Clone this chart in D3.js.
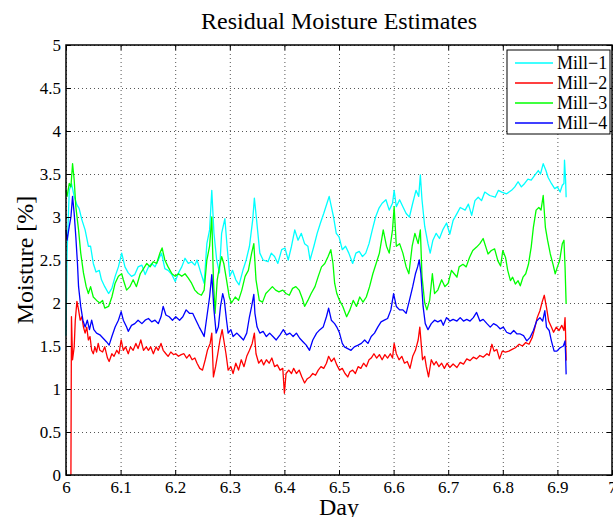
<!DOCTYPE html>
<html>
<head>
<meta charset="utf-8">
<script src="https://cdn.jsdelivr.net/npm/d3@7"></script>
<style>
    body { margin: 0; background: #fff; }
    svg { display: block; }
    text { font-family: "Liberation Serif", "Times New Roman", serif; fill: #000; }
</style>
</head>
<body>
<div id="chart"></div>
<script>
// DATA //
const chartTitle = "Residual Moisture Estimates"
const xLabel = "Day"
const yLabel = "Moisture [%]"
const seriesNames = ["Mill\u22121", "Mill\u22122", "Mill\u22123", "Mill\u22124"]
const seriesColors = ["#00ffff", "#ff0000", "#00ff00", "#0000ff"]
const xTicks = [6, 6.1, 6.2, 6.3, 6.4, 6.5, 6.6, 6.7, 6.8, 6.9, 7]
const xTickLabels = ["6", "6.1", "6.2", "6.3", "6.4", "6.5", "6.6", "6.7", "6.8", "6.9", "7"]
const yTicks = [0, 0.5, 1, 1.5, 2, 2.5, 3, 3.5, 4, 4.5, 5]
const yTickLabels = ["0", "0.5", "1", "1.5", "2", "2.5", "3", "3.5", "4", "4.5", "5"]

// [day, moisture %]
const mill1 = [
    [6.000,1.62],[6.002,2.58],[6.006,3.31],[6.010,3.39],[6.015,3.24],[6.020,3.14],[6.024,3.10],
    [6.029,2.97],[6.035,2.85],[6.041,2.66],[6.045,2.66],[6.050,2.46],[6.055,2.36],[6.061,2.38],
    [6.065,2.27],[6.071,2.19],[6.078,2.11],[6.084,2.17],[6.090,2.31],[6.096,2.42],[6.102,2.58],
    [6.108,2.42],[6.114,2.35],[6.120,2.31],[6.126,2.33],[6.132,2.42],[6.139,2.44],[6.145,2.33],
    [6.151,2.42],[6.157,2.46],[6.163,2.42],[6.169,2.50],[6.175,2.58],[6.181,2.40],[6.187,2.38],
    [6.194,2.33],[6.200,2.25],[6.206,2.35],[6.212,2.42],[6.218,2.52],[6.224,2.46],[6.230,2.48],
    [6.236,2.44],[6.240,2.50],[6.247,2.35],[6.253,2.23],[6.258,2.69],[6.263,2.85],[6.267,3.31],
    [6.271,2.81],[6.276,2.50],[6.281,2.35],[6.285,2.81],[6.291,2.98],[6.295,2.66],[6.300,2.31],
    [6.305,2.38],[6.311,2.27],[6.317,2.21],[6.324,2.38],[6.330,2.50],[6.336,2.66],[6.342,2.97],
    [6.345,3.22],[6.349,2.97],[6.355,2.58],[6.361,2.50],[6.370,2.48],[6.376,2.58],[6.382,2.54],
    [6.388,2.46],[6.395,2.62],[6.401,2.64],[6.407,2.50],[6.413,2.66],[6.419,2.85],[6.425,2.73],
    [6.431,2.81],[6.437,2.69],[6.443,2.66],[6.447,2.50],[6.454,2.66],[6.460,2.81],[6.466,2.93],
    [6.472,3.04],[6.478,3.16],[6.482,3.24],[6.486,3.12],[6.490,3.00],[6.495,2.81],[6.500,2.77],
    [6.506,2.62],[6.512,2.66],[6.518,2.58],[6.525,2.46],[6.531,2.58],[6.537,2.60],[6.543,2.54],
    [6.549,2.58],[6.555,2.69],[6.561,2.85],[6.567,3.00],[6.573,3.10],[6.579,3.16],[6.586,3.20],
    [6.592,3.08],[6.598,3.16],[6.601,3.31],[6.605,3.12],[6.611,3.20],[6.617,3.12],[6.623,3.04],
    [6.629,3.00],[6.635,3.16],[6.641,3.31],[6.646,3.24],[6.649,3.49],[6.652,3.20],[6.657,2.89],
    [6.663,2.69],[6.667,2.58],[6.672,2.73],[6.678,2.81],[6.684,2.75],[6.690,2.85],[6.697,2.93],
    [6.703,2.80],[6.709,2.96],[6.716,3.04],[6.722,3.11],[6.731,3.08],[6.737,3.15],[6.743,3.02],
    [6.749,3.19],[6.755,3.23],[6.761,3.19],[6.767,3.29],[6.776,3.25],[6.786,3.23],[6.792,3.31],
    [6.798,3.29],[6.807,3.27],[6.816,3.31],[6.822,3.35],[6.828,3.41],[6.834,3.35],[6.840,3.39],
    [6.846,3.44],[6.852,3.43],[6.858,3.48],[6.865,3.54],[6.869,3.50],[6.874,3.62],[6.879,3.54],
    [6.883,3.46],[6.889,3.39],[6.895,3.33],[6.900,3.35],[6.905,3.29],[6.909,3.37],[6.912,3.39],
    [6.913,3.66],[6.915,3.43],[6.916,3.23]
]

const mill2 = [
    [6.009,0.00],[6.010,1.84],[6.012,1.34],[6.015,1.49],[6.017,1.80],[6.020,2.02],[6.023,1.92],
    [6.026,1.80],[6.029,1.84],[6.032,1.72],[6.035,1.65],[6.038,1.72],[6.041,1.57],[6.044,1.61],
    [6.047,1.45],[6.050,1.41],[6.053,1.49],[6.056,1.43],[6.059,1.53],[6.062,1.45],[6.067,1.43],
    [6.071,1.49],[6.076,1.36],[6.079,1.32],[6.084,1.41],[6.088,1.38],[6.093,1.45],[6.097,1.41],
    [6.101,1.57],[6.105,1.45],[6.109,1.49],[6.114,1.41],[6.118,1.49],[6.123,1.45],[6.128,1.53],
    [6.132,1.47],[6.137,1.57],[6.142,1.45],[6.147,1.49],[6.151,1.45],[6.155,1.49],[6.160,1.41],
    [6.165,1.49],[6.169,1.45],[6.174,1.53],[6.178,1.45],[6.183,1.41],[6.187,1.38],[6.192,1.43],
    [6.197,1.40],[6.201,1.41],[6.206,1.38],[6.211,1.40],[6.216,1.41],[6.221,1.36],[6.226,1.40],
    [6.231,1.34],[6.236,1.36],[6.240,1.30],[6.245,1.24],[6.250,1.22],[6.255,1.34],[6.259,1.45],
    [6.264,1.53],[6.267,1.65],[6.270,1.14],[6.274,1.26],[6.278,1.41],[6.282,1.57],[6.286,1.69],
    [6.289,1.57],[6.293,1.41],[6.297,1.22],[6.302,1.26],[6.306,1.18],[6.311,1.30],[6.316,1.22],
    [6.321,1.34],[6.326,1.26],[6.331,1.38],[6.336,1.45],[6.341,1.53],[6.345,1.65],[6.348,1.41],
    [6.353,1.30],[6.358,1.34],[6.362,1.28],[6.367,1.34],[6.372,1.30],[6.377,1.36],[6.382,1.26],
    [6.387,1.28],[6.392,1.22],[6.397,1.24],[6.400,0.95],[6.403,1.18],[6.408,1.22],[6.413,1.18],
    [6.417,1.24],[6.422,1.18],[6.427,1.22],[6.432,1.14],[6.437,1.07],[6.442,1.12],[6.447,1.14],
    [6.452,1.18],[6.457,1.16],[6.462,1.22],[6.467,1.26],[6.472,1.24],[6.477,1.30],[6.481,1.38],
    [6.486,1.32],[6.491,1.36],[6.496,1.28],[6.501,1.22],[6.506,1.24],[6.511,1.18],[6.516,1.14],
    [6.520,1.20],[6.525,1.22],[6.530,1.18],[6.535,1.26],[6.540,1.24],[6.545,1.30],[6.550,1.26],
    [6.555,1.34],[6.559,1.36],[6.564,1.41],[6.569,1.36],[6.574,1.40],[6.579,1.34],[6.584,1.40],
    [6.589,1.36],[6.594,1.41],[6.598,1.36],[6.601,1.53],[6.605,1.41],[6.610,1.34],[6.615,1.38],
    [6.620,1.30],[6.625,1.32],[6.630,1.24],[6.635,1.38],[6.640,1.45],[6.645,1.57],[6.648,1.72],
    [6.651,1.49],[6.653,1.34],[6.657,1.38],[6.660,1.26],[6.664,1.14],[6.669,1.34],[6.674,1.28],
    [6.678,1.32],[6.683,1.26],[6.688,1.30],[6.693,1.24],[6.698,1.30],[6.703,1.25],[6.709,1.29],
    [6.716,1.25],[6.722,1.31],[6.728,1.29],[6.734,1.35],[6.740,1.33],[6.746,1.37],[6.752,1.35],
    [6.758,1.39],[6.764,1.37],[6.771,1.41],[6.775,1.39],[6.780,1.52],[6.784,1.44],[6.789,1.46],
    [6.794,1.35],[6.799,1.44],[6.805,1.43],[6.811,1.44],[6.817,1.46],[6.823,1.48],[6.830,1.52],
    [6.836,1.50],[6.842,1.54],[6.848,1.52],[6.854,1.60],[6.859,1.72],[6.863,1.83],[6.868,1.91],
    [6.872,2.01],[6.876,2.09],[6.880,1.95],[6.884,1.79],[6.889,1.72],[6.893,1.66],[6.898,1.72],
    [6.903,1.68],[6.908,1.74],[6.912,1.68],[6.914,1.83],[6.915,1.64],[6.916,1.33]
]

const mill3 = [
    [6.000,3.31],[6.002,3.24],[6.006,3.39],[6.009,3.35],[6.012,3.62],[6.015,3.43],[6.018,3.12],
    [6.023,2.85],[6.027,2.58],[6.032,2.35],[6.037,2.19],[6.041,2.11],[6.045,2.19],[6.050,2.07],
    [6.056,2.03],[6.062,2.00],[6.067,2.03],[6.071,1.94],[6.078,1.96],[6.084,2.07],[6.090,2.23],
    [6.096,2.31],[6.102,2.34],[6.105,2.27],[6.111,2.15],[6.117,2.19],[6.123,2.27],[6.129,2.19],
    [6.136,2.34],[6.142,2.40],[6.148,2.46],[6.154,2.42],[6.160,2.48],[6.166,2.46],[6.172,2.58],
    [6.176,2.64],[6.181,2.50],[6.187,2.42],[6.194,2.34],[6.200,2.31],[6.206,2.34],[6.212,2.31],
    [6.218,2.34],[6.224,2.29],[6.230,2.23],[6.236,2.15],[6.242,2.11],[6.248,2.09],[6.253,2.15],
    [6.258,2.50],[6.263,2.66],[6.267,3.00],[6.270,2.27],[6.273,1.88],[6.277,2.27],[6.281,2.42],
    [6.285,2.54],[6.289,2.46],[6.294,2.27],[6.299,2.07],[6.303,2.00],[6.310,2.07],[6.316,2.03],
    [6.322,2.15],[6.328,2.31],[6.334,2.38],[6.340,2.58],[6.344,2.69],[6.348,2.27],[6.354,2.03],
    [6.360,2.01],[6.366,2.11],[6.372,2.15],[6.378,2.19],[6.384,2.15],[6.390,2.13],[6.397,2.15],
    [6.403,2.11],[6.409,2.09],[6.415,2.17],[6.421,2.19],[6.427,2.15],[6.433,2.05],[6.437,1.96],
    [6.443,2.03],[6.449,2.11],[6.456,2.19],[6.462,2.31],[6.468,2.42],[6.474,2.46],[6.480,2.54],
    [6.485,2.62],[6.489,2.46],[6.492,2.23],[6.496,2.11],[6.501,2.03],[6.507,1.96],[6.514,1.84],
    [6.520,1.92],[6.526,2.03],[6.532,1.96],[6.538,2.07],[6.544,2.01],[6.550,2.07],[6.556,2.19],
    [6.562,2.34],[6.568,2.46],[6.574,2.58],[6.581,2.85],[6.587,2.66],[6.592,2.58],[6.598,2.85],
    [6.601,3.12],[6.605,2.66],[6.611,2.69],[6.617,2.58],[6.623,2.42],[6.628,2.34],[6.634,2.66],
    [6.639,2.81],[6.645,2.69],[6.649,2.85],[6.652,2.31],[6.657,2.00],[6.661,1.92],[6.666,2.03],
    [6.671,2.34],[6.675,2.11],[6.681,2.15],[6.688,2.27],[6.694,2.19],[6.700,2.23],[6.706,2.38],
    [6.711,2.34],[6.716,2.30],[6.720,2.42],[6.727,2.45],[6.733,2.42],[6.739,2.53],[6.745,2.61],
    [6.752,2.65],[6.758,2.69],[6.764,2.75],[6.769,2.65],[6.773,2.57],[6.779,2.61],[6.785,2.63],
    [6.791,2.49],[6.796,2.43],[6.800,2.61],[6.805,2.53],[6.809,2.38],[6.814,2.26],[6.818,2.30],
    [6.823,2.22],[6.828,2.26],[6.832,2.20],[6.837,2.30],[6.842,2.34],[6.847,2.45],[6.852,2.65],
    [6.856,2.88],[6.861,3.08],[6.866,3.11],[6.870,3.08],[6.874,3.25],[6.878,2.88],[6.882,2.73],
    [6.887,2.57],[6.892,2.45],[6.896,2.34],[6.900,2.42],[6.904,2.49],[6.909,2.69],[6.912,2.73],
    [6.914,2.42],[6.916,1.99]
]

const mill4 = [
    [6.000,2.85],[6.002,2.73],[6.006,2.89],[6.009,3.00],[6.012,3.24],[6.015,3.04],[6.018,2.77],
    [6.021,2.46],[6.023,2.19],[6.027,1.96],[6.031,1.80],[6.035,1.72],[6.039,1.80],[6.043,1.69],
    [6.047,1.80],[6.051,1.69],[6.056,1.65],[6.062,1.63],[6.068,1.59],[6.074,1.55],[6.079,1.51],
    [6.084,1.61],[6.090,1.72],[6.096,1.80],[6.101,1.90],[6.105,1.80],[6.111,1.72],[6.114,1.67],
    [6.120,1.74],[6.126,1.76],[6.132,1.80],[6.139,1.76],[6.145,1.80],[6.151,1.82],[6.157,1.78],
    [6.163,1.80],[6.169,1.76],[6.174,1.84],[6.178,1.96],[6.183,1.86],[6.189,1.84],[6.195,1.80],
    [6.201,1.84],[6.208,1.80],[6.214,1.84],[6.220,1.92],[6.226,1.88],[6.232,1.88],[6.238,1.80],
    [6.244,1.72],[6.250,1.65],[6.253,1.61],[6.258,1.84],[6.263,2.07],[6.267,2.33],[6.271,1.92],
    [6.275,1.65],[6.279,1.72],[6.283,1.96],[6.287,2.11],[6.290,2.03],[6.294,1.80],[6.297,1.65],
    [6.302,1.69],[6.306,1.61],[6.313,1.65],[6.319,1.61],[6.325,1.57],[6.331,1.65],[6.336,1.84],
    [6.340,1.96],[6.344,2.10],[6.346,1.88],[6.350,1.72],[6.355,1.65],[6.361,1.67],[6.367,1.61],
    [6.373,1.65],[6.379,1.61],[6.385,1.57],[6.392,1.63],[6.398,1.69],[6.404,1.63],[6.410,1.65],
    [6.416,1.61],[6.422,1.65],[6.428,1.59],[6.434,1.55],[6.440,1.51],[6.446,1.45],[6.452,1.57],
    [6.459,1.65],[6.465,1.69],[6.471,1.72],[6.477,1.84],[6.481,1.94],[6.486,1.80],[6.492,1.76],
    [6.496,1.72],[6.501,1.65],[6.506,1.53],[6.510,1.49],[6.516,1.47],[6.522,1.45],[6.528,1.49],
    [6.535,1.51],[6.541,1.53],[6.547,1.57],[6.553,1.53],[6.559,1.61],[6.565,1.65],[6.571,1.72],
    [6.577,1.78],[6.583,1.80],[6.589,1.82],[6.595,1.92],[6.600,2.11],[6.605,1.96],[6.611,1.92],
    [6.617,1.92],[6.623,1.88],[6.629,2.03],[6.635,2.19],[6.640,2.34],[6.644,2.42],[6.647,2.50],
    [6.650,2.34],[6.654,1.96],[6.658,1.76],[6.663,1.69],[6.669,1.76],[6.675,1.80],[6.681,1.78],
    [6.687,1.80],[6.691,1.74],[6.697,1.83],[6.703,1.79],[6.709,1.81],[6.716,1.79],[6.722,1.83],
    [6.728,1.79],[6.734,1.81],[6.740,1.79],[6.746,1.83],[6.752,1.89],[6.758,1.79],[6.764,1.81],
    [6.771,1.76],[6.777,1.72],[6.783,1.76],[6.789,1.74],[6.795,1.70],[6.801,1.72],[6.807,1.66],
    [6.814,1.64],[6.820,1.68],[6.826,1.64],[6.832,1.64],[6.838,1.62],[6.844,1.56],[6.850,1.60],
    [6.856,1.68],[6.862,1.79],[6.868,1.83],[6.873,1.79],[6.877,1.91],[6.880,1.72],[6.885,1.68],
    [6.889,1.56],[6.894,1.44],[6.899,1.44],[6.905,1.48],[6.911,1.50],[6.914,1.56],[6.915,1.41],
    [6.916,1.17]
]

const allSeries = [mill1, mill2, mill3, mill4]

// DIMENSIONS //
const width = 613
const height = 517
const serifFont = "'Liberation Serif', 'Times New Roman', serif"

let dimensions = {
    width: width,
    height: height,
    margin: {
        top: 45,
        right: 1,
        bottom: 42,
        left: 66,
    },
}
dimensions.boundedWidth = dimensions.width - dimensions.margin.left - dimensions.margin.right
dimensions.boundedHeight = dimensions.height - dimensions.margin.top - dimensions.margin.bottom

const xScale = d3.scaleLinear()
    .domain([6, 7])
    .range([0, dimensions.boundedWidth])

const yScale = d3.scaleLinear()
    .domain([0, 5])
    .range([dimensions.boundedHeight, 0])

const xAccessor = d => d[0]
const yAccessor = d => d[1]

// DRAW //
const wrapper = d3.select("#chart")
    .append("svg")
    .attr("width", dimensions.width)
    .attr("height", dimensions.height)

const bounds = wrapper.append("g")
    .attr("transform", `translate(${dimensions.margin.left},${dimensions.margin.top})`)

// grid (dotted, like matlab "grid on")
const xGrid = d3.axisBottom(xScale)
    .tickValues(xTicks)
    .tickSize(-dimensions.boundedHeight)
    .tickFormat("")
const yGrid = d3.axisLeft(yScale)
    .tickValues(yTicks)
    .tickSize(-dimensions.boundedWidth)
    .tickFormat("")

bounds.append("g")
    .attr("class", "grid")
    .attr("transform", `translate(0,${dimensions.boundedHeight})`)
    .call(xGrid)
bounds.append("g")
    .attr("class", "grid")
    .call(yGrid)
bounds.selectAll(".grid .domain").remove()
bounds.selectAll(".grid line")
    .attr("stroke", "#555")
    .attr("stroke-width", 1)
    .attr("stroke-dasharray", "1,3")

// lines
const lineGenerator = d3.line()
    .x(d => xScale(xAccessor(d)))
    .y(d => yScale(yAccessor(d)))

bounds.selectAll(".series")
    .data(allSeries)
    .join("path")
    .attr("class", "series")
    .attr("d", d => lineGenerator(d))
    .attr("fill", "none")
    .attr("stroke", (d, i) => seriesColors[i])
    .attr("stroke-width", 1.3)
    .attr("stroke-linejoin", "round")

// axes, ticks pointing inward
const xAxisGenerator = d3.axisBottom(xScale)
    .tickValues(xTicks)
    .tickFormat((d, i) => xTickLabels[i])
    .tickSizeInner(-5)
    .tickSizeOuter(0)
    .tickPadding(6)
const yAxisGenerator = d3.axisLeft(yScale)
    .tickValues(yTicks)
    .tickFormat((d, i) => yTickLabels[i])
    .tickSizeInner(-5)
    .tickSizeOuter(0)
    .tickPadding(5)
const xTopGenerator = d3.axisTop(xScale)
    .tickValues(xTicks)
    .tickFormat("")
    .tickSizeInner(-5)
    .tickSizeOuter(0)
const yRightGenerator = d3.axisRight(yScale)
    .tickValues(yTicks)
    .tickFormat("")
    .tickSizeInner(-5)
    .tickSizeOuter(0)

const axisGroups = [
    bounds.append("g")
        .attr("transform", `translate(0,${dimensions.boundedHeight})`)
        .call(xAxisGenerator),
    bounds.append("g")
        .call(yAxisGenerator),
    bounds.append("g")
        .call(xTopGenerator),
    bounds.append("g")
        .attr("transform", `translate(${dimensions.boundedWidth},0)`)
        .call(yRightGenerator),
]

axisGroups.forEach(g => {
    g.attr("font-family", serifFont).attr("font-size", 17)
    g.select(".domain").remove()
    g.selectAll(".tick line").attr("stroke", "#000")
    g.selectAll(".tick text")
        .style("font-family", serifFont)
        .style("font-size", "17px")
        .attr("fill", "#000")
})

// box
bounds.append("rect")
    .attr("x", 0)
    .attr("y", 0)
    .attr("width", dimensions.boundedWidth)
    .attr("height", dimensions.boundedHeight)
    .attr("fill", "none")
    .attr("stroke", "#000")
    .attr("stroke-width", 1.5)

// title and labels
wrapper.append("text")
    .attr("x", dimensions.margin.left + dimensions.boundedWidth / 2)
    .attr("y", 29)
    .attr("text-anchor", "middle")
    .style("font-size", "24px")
    .text(chartTitle)

wrapper.append("text")
    .attr("x", dimensions.margin.left + dimensions.boundedWidth / 2)
    .attr("y", 515)
    .attr("text-anchor", "middle")
    .style("font-size", "24px")
    .text(xLabel)

wrapper.append("text")
    .attr("transform", "rotate(-90)")
    .attr("x", -(dimensions.margin.top + dimensions.boundedHeight / 2))
    .attr("y", 33)
    .attr("text-anchor", "middle")
    .style("font-size", "24px")
    .text(yLabel)

// legend
const legend = bounds.append("g")
    .attr("transform", `translate(${dimensions.boundedWidth - 105},5)`)

legend.append("rect")
    .attr("width", 103)
    .attr("height", 84)
    .attr("fill", "#fff")
    .attr("stroke", "#000")
    .attr("stroke-width", 1)

const legendItems = legend.selectAll(".legend-item")
    .data(seriesNames)
    .join("g")
    .attr("class", "legend-item")
    .attr("transform", (d, i) => `translate(0,${13 + i * 20})`)

legendItems.append("line")
    .attr("x1", 8)
    .attr("x2", 46)
    .attr("stroke", (d, i) => seriesColors[i])
    .attr("stroke-width", 1.3)

legendItems.append("text")
    .attr("x", 50)
    .attr("dy", "0.35em")
    .style("font-size", "18px")
    .text(d => d)
</script>
</body>
</html>
